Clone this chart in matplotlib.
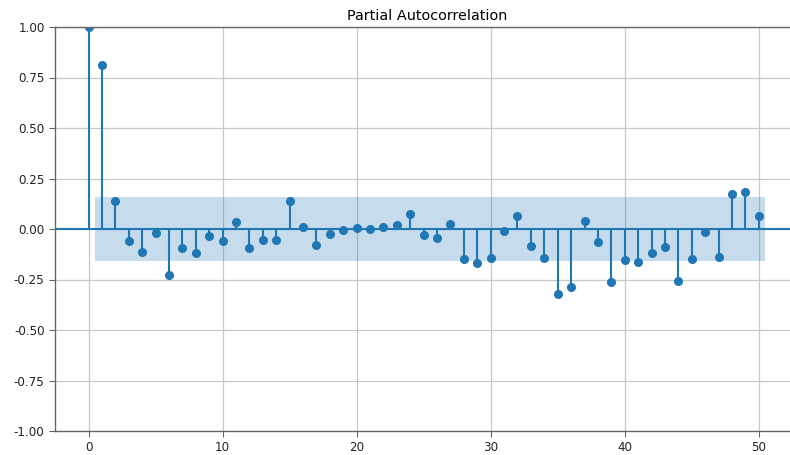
import matplotlib
matplotlib.use("Agg")
import matplotlib.pyplot as plt
import numpy as np

# partial autocorrelation values, lags 0..50
lags = list(range(51))
pacf_vals = [
    1.00, 0.81, 0.137, -0.061, -0.114, -0.018, -0.228, -0.092, -0.120, -0.036,
    -0.061, 0.033, -0.092, -0.056, -0.053, 0.137, 0.011, -0.081, -0.025, -0.003,
    0.005, 0.002, 0.010, 0.020, 0.076, -0.028, -0.043, 0.026, -0.147, -0.168,
    -0.142, -0.012, 0.063, -0.083, -0.142, -0.320, -0.285, 0.040, -0.063, -0.264,
    -0.155, -0.163, -0.120, -0.091, -0.259, -0.150, -0.017, -0.139, 0.175, 0.183,
    0.066,
]
conf_half = 0.156
title = "Partial Autocorrelation"

color = "#1f77b4"

fig = plt.figure(figsize=(7.9, 4.55), dpi=100)
# axes runs a little past the right edge, as in the cropped reference
ax = fig.add_axes([55 / 790, 24 / 455, 744 / 790, 404 / 455])

x = np.array(lags, dtype=float)
y = np.array(pacf_vals)

ax.vlines(x, 0, y, color=color, linewidth=1.5)
ax.axhline(0, color=color, linewidth=1.5)
ax.plot(x, y, "o", color=color, markersize=5.5)

band_x = x[1:].copy()
band_x[0] -= 0.5
band_x[-1] += 0.5
ax.fill_between(band_x, -conf_half, conf_half, color=color, alpha=0.25, linewidth=0)

ax.set_xlim(-2.5, 53.0)
ax.set_ylim(-1, 1)
ax.set_xticks([0, 10, 20, 30, 40, 50])
ax.set_yticks(np.arange(-1, 1.01, 0.25))
ax.yaxis.set_major_formatter(plt.FormatStrFormatter("%.2f"))
ax.grid(True, color="#c8c8c8", linewidth=0.9)
ax.set_axisbelow(True)

for side in ["left", "bottom", "top"]:
    ax.spines[side].set_color("#666666")
    ax.spines[side].set_linewidth(1.0)
ax.spines["right"].set_visible(False)
ax.tick_params(labelsize=8.6, colors="#222222", length=4, width=0.8)
ax.tick_params(axis="both", color="#666666")

ax.set_title(title, fontsize=10.4, pad=5)

fig.savefig("out.png", dpi=100)
